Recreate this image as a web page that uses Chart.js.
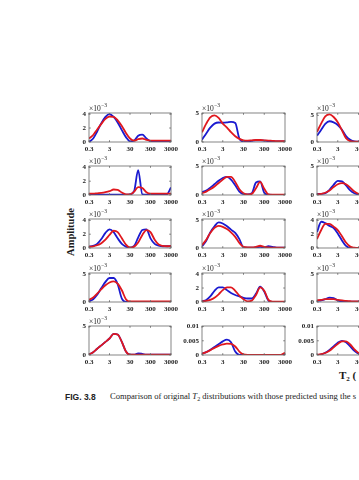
<!DOCTYPE html>
<html><head><meta charset="utf-8">
<script src="https://cdn.jsdelivr.net/npm/chart.js@4/dist/chart.umd.min.js"></script>
<style>
html,body{margin:0;padding:0;background:#fff;}
body{width:359px;height:480px;overflow:hidden;position:relative;}
canvas.pc{position:absolute;}
.t{position:absolute;white-space:nowrap;color:#1a1a1a;line-height:1;}
</style></head><body>
<div class="t" id="ylab" style="left:70px;top:232px;font:bold 10.5px 'Liberation Serif',serif;transform:translate(-50%,-50%) rotate(-90deg);">Amplitude</div>
<div class="t" style="left:339px;top:369px;font:bold 11px 'Liberation Serif',serif;">T<sub style="font-size:7px;vertical-align:-2px;">2</sub> (</div>
<div class="t" style="left:65px;top:391.5px;font:bold 8.5px 'Liberation Sans',sans-serif;color:#222;">FIG. 3.8</div>
<div class="t" style="left:110px;top:391px;font:8.6px 'Liberation Serif',serif;color:#222;">Comparison of original <i>T</i><sub style="font-size:6px;vertical-align:-1.5px;">2</sub> distributions with those predicted using the s</div>
<script>
// T2 grid (ms) and x tick labels
const T2 = [0.3,0.48,0.75,1.2,1.9,3,4.8,7.5,12,19,30,48,75,120,190,300,480,750,1200,1900,3000];
const xTickValues = [0.3,3,30,300,3000];
const xTickLabels = ['0.3','3','30','300','3000'];
const yTicks4 = [0,2,4];
const yTicks5 = [0,5];
const yTicks01 = [0,0.005,0.01];
const yTicks01Labels = ['0','0.005','0.01'];

// column 1 (amplitude x10^-3)
const blue_r1c1 = [0,0.5,1.5,2.7,3.6,4.0,3.6,2.8,1.7,0.7,0.1,0.2,0.9,1.05,0.5,0.1,0.05,0.05,0.05,0.05,0.05];
const red_r1c1  = [0.5,1.0,1.8,2.6,3.3,3.65,3.6,3.1,2.3,1.3,0.5,0.2,0.4,0.5,0.3,0.2,0.2,0.2,0.2,0.2,0.2];
const blue_r2c1 = [0.05,0.05,0.05,0.05,0.05,0.05,0.05,0.05,0.05,0.05,0.1,0.6,3.6,0.1,0.05,0.05,0.05,0.05,0.05,0.1,1.1];
const red_r2c1  = [0.2,0.2,0.25,0.3,0.4,0.55,0.8,0.75,0.35,0.1,0.1,0.5,1.15,1.0,0.4,0.2,0.2,0.2,0.2,0.2,0.2];
const blue_r3c1 = [0.2,0.3,0.6,1.3,2.2,2.7,2.3,1.4,0.6,0.2,0.05,0.3,1.5,2.6,2.7,1.4,0.6,0.35,0.25,0.25,0.3];
const red_r3c1  = [0.2,0.25,0.4,0.7,1.2,1.9,2.5,2.3,1.4,0.5,0.05,0.2,0.8,1.9,2.6,2.3,1.2,0.5,0.3,0.25,0.3];
const blue_r4c1 = [0.1,0.5,1.3,2.5,3.6,4.3,4.3,3.2,0.6,0.02,0.01,0.01,0.01,0.01,0.01,0.01,0.01,0.01,0.01,0.01,0.01];
const red_r4c1  = [0.4,0.8,1.5,2.3,3.0,3.5,3.7,3.3,2.1,0.5,0.1,0.1,0.1,0.1,0.1,0.1,0.1,0.1,0.1,0.1,0.1];
const blue_r5c1 = [0.1,0.5,1.1,1.7,2.3,2.9,3.7,3.6,2.3,0.6,0.05,0.05,0.3,0.2,0.05,0.05,0.05,0.05,0.05,0.05,0.05];
const red_r5c1  = [0.1,0.5,1.1,1.7,2.3,2.9,3.7,3.6,2.3,0.6,0.05,0.05,0.05,0.05,0.05,0.05,0.05,0.05,0.05,0.05,0.05];
// column 2
const blue_r1c2 = [0.4,1.5,2.5,3.2,3.4,3.35,3.4,3.5,3.3,0.6,0.1,0.1,0.2,0.3,0.3,0.25,0.15,0.1,0.1,0.1,0.1];
const red_r1c2  = [1.7,3.2,4.3,4.65,4.2,3.2,2.5,1.7,1.0,0.55,0.3,0.25,0.3,0.35,0.35,0.3,0.25,0.2,0.15,0.15,0.15];
const blue_r2c2 = [0.5,0.8,1.3,1.9,2.5,3.0,3.2,2.7,1.7,0.6,0.15,0.1,0.3,2.2,2.4,0.4,0.05,0.02,0.02,0.02,0.02];
const red_r2c2  = [0.3,0.6,1.0,1.5,2.1,2.7,3.2,3.2,2.3,1.0,0.3,0.1,0.2,1.2,2.3,1.1,0.1,0.05,0.05,0.05,0.05];
const blue_r3c2 = [0.3,1.3,2.8,3.9,4.6,4.4,3.9,3.3,2.7,1.6,0.1,0.05,0.05,0.1,0.2,0.1,0.35,0.2,0.05,0.05,0.05];
const red_r3c2  = [0.5,1.5,2.7,3.6,3.95,3.8,3.4,2.8,2.0,0.9,0.2,0.1,0.1,0.2,0.4,0.2,0.1,0.05,0.05,0.05,0.05];
const blue_r4c2 = [0.1,0.3,0.8,1.6,2.1,2.1,1.7,1.3,1.0,0.8,0.6,0.5,0.5,1.2,2.2,1.5,0.2,0.02,0.02,0.02,0.02];
const red_r4c2  = [0.1,0.15,0.3,0.6,1.1,1.7,2.1,2.1,1.6,0.9,0.4,0.1,0.2,1.0,2.1,1.6,0.3,0.05,0.05,0.05,0.05];
const blue_r5c2 = [0.0005,0.001,0.0018,0.0028,0.0038,0.0048,0.0054,0.0045,0.0012,0.00005,0.00002,0.00002,0.00002,0.00002,0.00002,0.00002,0.00002,0.00002,0.00002,0.00002,0.00002];
const red_r5c2  = [0.0005,0.001,0.0017,0.0025,0.0032,0.0037,0.004,0.0039,0.003,0.0012,0.0002,0.00005,0.00005,0.00005,0.00005,0.00005,0.00005,0.00005,0.00005,0.00005,0.0008];
// column 3 (right part cut off)
const blue_r1c3 = [1.2,2.3,3.4,3.9,3.7,3.2,2.3,1.1,0.4,0.1,0.05,0.05,0.05,0.05,0.05,0.05,0.05,0.05,0.05,0.05,0.05];
const red_r1c3  = [1.9,3.5,4.8,5.2,4.7,3.7,2.2,0.7,0.15,0.05,0.05,0.05,0.05,0.05,0.05,0.05,0.05,0.05,0.05,0.05,0.05];
const blue_r2c3 = [0.2,0.2,0.3,0.9,1.8,2.5,2.4,1.7,0.8,0.3,0.1,0.05,0.05,0.05,0.05,0.05,0.05,0.05,0.05,0.05,0.05];
const red_r2c3  = [0.1,0.2,0.4,0.8,1.4,1.9,2.1,1.9,1.3,0.6,0.2,0.05,0.05,0.05,0.05,0.05,0.05,0.05,0.05,0.05,0.05];
const blue_r3c3 = [2.3,3.8,3.6,3.2,2.9,2.1,1.1,0.3,0.02,0.02,0.02,0.02,0.02,0.02,0.02,0.02,0.02,0.02,0.02,0.02,0.02];
const red_r3c3  = [1.3,2.6,3.5,3.5,3.1,2.6,1.7,0.8,0.2,0.05,0.02,0.02,0.02,0.02,0.02,0.02,0.02,0.02,0.02,0.02,0.02];
const blue_r4c3 = [0.2,0.3,0.5,0.8,0.7,0.3,0.1,0.05,0.05,0.05,0.05,0.05,0.05,0.05,0.05,0.05,0.05,0.05,0.05,0.05,0.05];
const red_r4c3  = [0.3,0.4,0.5,0.5,0.5,0.4,0.3,0.2,0.15,0.1,0.1,0.1,0.1,0.1,0.1,0.1,0.1,0.1,0.1,0.1,0.1];
const blue_r5c3 = [0.00002,0.0002,0.0008,0.0018,0.003,0.0043,0.005,0.0045,0.003,0.0015,0.0005,0.0001,0.00005,0.00005,0.00005,0.00005,0.00005,0.00005,0.00005,0.00005,0.00005];
const red_r5c3  = [0.0001,0.0003,0.0007,0.0015,0.0027,0.0039,0.0048,0.0048,0.0037,0.002,0.0007,0.0002,0.00005,0.00005,0.00005,0.00005,0.00005,0.00005,0.00005,0.00005,0.00005];

const colLeft = [89, 202, 317];
const colWidth = [82, 83, 83];
const rowTop = [113, 166, 219, 273, 326];
const boxH = 29;
const PADL = 28, PADT = 12, PADR = 14, PADB = 13;

const panels = [
  {r:0,c:0,b:blue_r1c1,d:red_r1c1,yt:yTicks4,max:4.15,exp:true},
  {r:1,c:0,b:blue_r2c1,d:red_r2c1,yt:yTicks4,max:4.2,exp:true},
  {r:2,c:0,b:blue_r3c1,d:red_r3c1,yt:yTicks4,max:4.2,exp:true},
  {r:3,c:0,b:blue_r4c1,d:red_r4c1,yt:yTicks5,max:5.2,exp:true},
  {r:4,c:0,b:blue_r5c1,d:red_r5c1,yt:yTicks5,max:5.1,exp:true},
  {r:0,c:1,b:blue_r1c2,d:red_r1c2,yt:yTicks5,max:5.05,exp:true},
  {r:1,c:1,b:blue_r2c2,d:red_r2c2,yt:yTicks5,max:5.1,exp:true},
  {r:2,c:1,b:blue_r3c2,d:red_r3c2,yt:yTicks5,max:5.2,exp:true},
  {r:3,c:1,b:blue_r4c2,d:red_r4c2,yt:yTicks4,max:4.15,exp:true},
  {r:4,c:1,b:blue_r5c2,d:red_r5c2,yt:yTicks01,max:0.0102,exp:false},
  {r:0,c:2,b:blue_r1c3,d:red_r1c3,yt:yTicks5,max:5.45,exp:true},
  {r:1,c:2,b:blue_r2c3,d:red_r2c3,yt:yTicks5,max:5.1,exp:true},
  {r:2,c:2,b:blue_r3c3,d:red_r3c3,yt:yTicks4,max:4.2,exp:true},
  {r:3,c:2,b:blue_r4c3,d:red_r4c3,yt:yTicks5,max:5.2,exp:true},
  {r:4,c:2,b:blue_r5c3,d:red_r5c3,yt:yTicks01,max:0.0102,exp:false}
];

const tickFont = {family:"'Liberation Serif', serif", size:7, weight:'bold'};

const framePlugin = {
  id:'frame',
  afterDraw(chart, args, opts){
    const ctx = chart.ctx, a = chart.chartArea, x = chart.scales.x, y = chart.scales.y;
    ctx.save();
    ctx.strokeStyle = '#666'; ctx.lineWidth = 0.8;
    ctx.strokeRect(a.left, a.top, a.right - a.left, a.bottom - a.top);
    ctx.beginPath();
    for (const v of xTickValues){
      const px = x.getPixelForValue(v);
      ctx.moveTo(px, a.bottom); ctx.lineTo(px, a.bottom - 1.8);
      ctx.moveTo(px, a.top); ctx.lineTo(px, a.top + 1.8);
    }
    for (const v of opts.yt){
      const py = y.getPixelForValue(v);
      ctx.moveTo(a.left, py); ctx.lineTo(a.left + 1.8, py);
      ctx.moveTo(a.right, py); ctx.lineTo(a.right - 1.8, py);
    }
    ctx.stroke();
    if (opts.exp){
      ctx.fillStyle = '#222';
      ctx.textBaseline = 'alphabetic';
      ctx.font = "7.5px 'Liberation Serif', serif";
      ctx.fillText('\u00d710', a.left, a.top - 2.3);
      const w = ctx.measureText('\u00d710').width;
      ctx.font = "5.5px 'Liberation Serif', serif";
      ctx.fillText('\u22123', a.left + w + 0.3, a.top - 6.3);
    }
    ctx.restore();
  }
};

panels.forEach(p => {
  const cv = document.createElement('canvas');
  cv.className = 'pc';
  const W = colWidth[p.c] + PADL + PADR, H = boxH + PADT + PADB;
  cv.width = W; cv.height = H;
  cv.style.width = W + 'px'; cv.style.height = H + 'px';
  cv.style.left = (colLeft[p.c] - PADL) + 'px';
  cv.style.top = (rowTop[p.r] - PADT) + 'px';
  document.body.appendChild(cv);
  new Chart(cv, {
    type:'line',
    data:{
      labels:T2,
      datasets:[
        {label:'original', data:T2.map((t,i)=>({x:t,y:p.b[i]})), borderColor:'#1a1ad0', borderWidth:1.8, pointRadius:0, cubicInterpolationMode:'monotone', fill:false, order:1},
        {label:'predicted', data:T2.map((t,i)=>({x:t,y:p.d[i]})), borderColor:'#e0181e', borderWidth:1.8, pointRadius:0, cubicInterpolationMode:'monotone', fill:false, order:0}
      ]
    },
    options:{
      responsive:false, animation:false, devicePixelRatio:1,
      layout:{padding:{top:PADT,right:PADR,left:0,bottom:0}},
      plugins:{legend:{display:false}, tooltip:{enabled:false}, frame:{yt:p.yt, exp:p.exp}},
      scales:{
        x:{type:'logarithmic', min:0.3, max:3000,
           grid:{display:false, drawTicks:false}, border:{display:false},
           afterBuildTicks:s=>{s.ticks = xTickValues.map(v=>({value:v}));},
           afterFit:s=>{s.height = PADB;},
           ticks:{autoSkip:false, maxRotation:0, padding:2.5, font:tickFont, color:'#222',
                  callback:(v)=>{const k = xTickValues.indexOf(v); return k>=0 ? xTickLabels[k] : '';}}},
        y:{type:'linear', min:0, max:p.max,
           grid:{display:false, drawTicks:false}, border:{display:false},
           afterBuildTicks:s=>{s.ticks = p.yt.map(v=>({value:v}));},
           afterFit:s=>{s.width = PADL;},
           ticks:{autoSkip:false, padding:3, font:tickFont, color:'#222',
                  callback:(v)=>{ if (p.yt === yTicks01){ const k = yTicks01.indexOf(v); return k>=0 ? yTicks01Labels[k] : ''; } return String(v); }}}
      }
    },
    plugins:[framePlugin]
  });
});
</script>
</body></html>
